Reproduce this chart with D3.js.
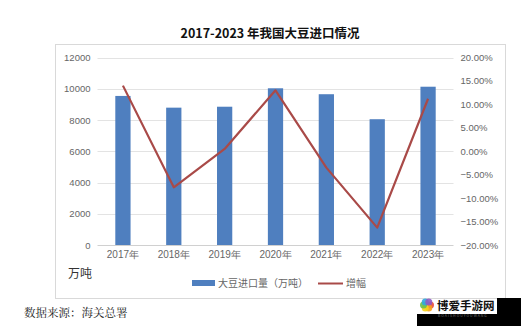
<!DOCTYPE html>
<html><head><meta charset="utf-8">
<script src="https://cdn.jsdelivr.net/npm/d3@7"></script>
<style>body{margin:0;background:#fff;}svg{display:block;font-family:"Noto Sans CJK SC","Noto Sans",sans-serif;}</style>
</head><body>
<svg id="c" width="521" height="326"></svg>
<script>
const years = ["2017年","2018年","2019年","2020年","2021年","2022年","2023年"];
const imports = [9540, 8790, 8850, 10030, 9650, 8050, 10130];
const growth = [0.140, -0.077, 0.005, 0.130, -0.035, -0.163, 0.112];
const leftTicks = [0,2000,4000,6000,8000,10000,12000];
const rightTicks = [-0.2,-0.15,-0.1,-0.05,0,0.05,0.1,0.15,0.2];

const svg = d3.select("#c");
const x0 = 97.5, x1 = 453.5, yTop = 57.5, yBot = 245;
const x = d3.scaleBand().domain(years).range([x0,x1]).paddingInner(0.7).paddingOuter(0.35);
const yL = d3.scaleLinear().domain([0,12000]).range([yBot,yTop]);
const yR = d3.scaleLinear().domain([-0.2,0.2]).range([yBot,yTop]);

// chart frame
svg.append("rect").attr("x",55.5).attr("y",44.5).attr("width",450).attr("height",254)
  .attr("fill","#fff").attr("stroke","#d9d9d9");

// title
svg.append("text").attr("x",270).attr("y",38).attr("text-anchor","middle")
  .attr("font-size",12.5).attr("font-weight","bold").attr("fill","#111").text("2017-2023 年我国大豆进口情况");

// grid
svg.append("g").selectAll("line").data(leftTicks.slice(1)).join("line")
  .attr("x1",x0).attr("x2",x1).attr("y1",d=>Math.round(yL(d))+0.5).attr("y2",d=>Math.round(yL(d))+0.5)
  .attr("stroke","#e3e3e3");

// left axis
const gl = svg.append("g").attr("transform",`translate(${x0},0)`)
  .call(d3.axisLeft(yL).tickValues(leftTicks).tickSize(0).tickPadding(7).tickFormat(d3.format("d")));
gl.select(".domain").remove();
gl.selectAll("text").attr("font-size",9.5).attr("fill","#666").attr("font-family","Liberation Sans, Arial, sans-serif");

// right axis
const gr = svg.append("g").attr("transform",`translate(${x1},0)`)
  .call(d3.axisRight(yR).tickValues(rightTicks).tickSize(0).tickPadding(7).tickFormat(d3.format(".2%")));
gr.select(".domain").remove();
gr.selectAll("text").attr("font-size",9.5).attr("fill","#666").attr("font-family","Liberation Sans, Arial, sans-serif");

// bars
svg.append("g").selectAll("rect").data(imports).join("rect")
  .attr("x",(d,i)=>x(years[i])).attr("width",x.bandwidth())
  .attr("y",d=>yL(d)).attr("height",d=>yBot-yL(d)).attr("fill","#4f7fbf");

// baseline
svg.append("line").attr("x1",x0).attr("x2",x1).attr("y1",yBot+0.5).attr("y2",yBot+0.5).attr("stroke","#d0d0d0");

// x axis labels
const gx = svg.append("g").attr("transform",`translate(0,${yBot})`)
  .call(d3.axisBottom(x).tickSize(0).tickPadding(6));
gx.select(".domain").remove();
gx.selectAll("text").attr("font-size",10).attr("fill","#666");

// line
const line = d3.line().x((d,i)=>x(years[i])+x.bandwidth()/2).y(d=>yR(d));
svg.append("path").datum(growth).attr("d",line).attr("fill","none")
  .attr("stroke","#a94a48").attr("stroke-width",2.2).attr("stroke-linejoin","round");

// unit label
svg.append("text").attr("x",68).attr("y",278).attr("font-size",12).attr("fill","#333").text("万吨");

// legend
const lg = svg.append("g");
lg.append("rect").attr("x",192).attr("y",280).attr("width",23).attr("height",6).attr("fill","#4f7fbf");
lg.append("text").attr("x",218).attr("y",287).attr("font-size",10).attr("fill","#666").text("大豆进口量（万吨）");
lg.append("line").attr("x1",318).attr("x2",343).attr("y1",283.5).attr("y2",283.5).attr("stroke","#a94a48").attr("stroke-width",2);
lg.append("text").attr("x",346).attr("y",287).attr("font-size",10).attr("fill","#666").text("增幅");

// source
svg.append("text").attr("x",24).attr("y",317).attr("font-size",11.5).attr("fill","#222")
  .attr("font-family","Noto Serif CJK SC, Noto Sans CJK SC, serif").text("数据来源：海关总署");

// watermark
svg.append("rect").attr("x",497).attr("y",298).attr("width",24).attr("height",28).attr("fill","#000");
svg.append("rect").attr("x",417).attr("y",314).attr("width",104).attr("height",12).attr("fill","#000");
const fl = svg.append("g").attr("transform","translate(427,305)");
const petals = ["#e94e3c","#f7a21b","#f5d31c","#6cc04a","#2fa8e0","#8e5bc2"];
petals.forEach((c,i)=>{
  const a = i/petals.length*2*Math.PI;
  fl.append("circle").attr("cx",Math.cos(a)*3.5).attr("cy",Math.sin(a)*3.5).attr("r",3.5).attr("fill",c).attr("opacity",0.9);
});
svg.append("text").attr("x",437).attr("y",310).attr("font-size",11.5).attr("font-weight","bold").attr("fill","#111").text("博爱手游网");
svg.append("text").attr("x",438).attr("y",316.5).attr("font-size",3.5).attr("fill","#777").attr("letter-spacing",1).text("BOAISHOUYOUWANG");
</script>
</body></html>
